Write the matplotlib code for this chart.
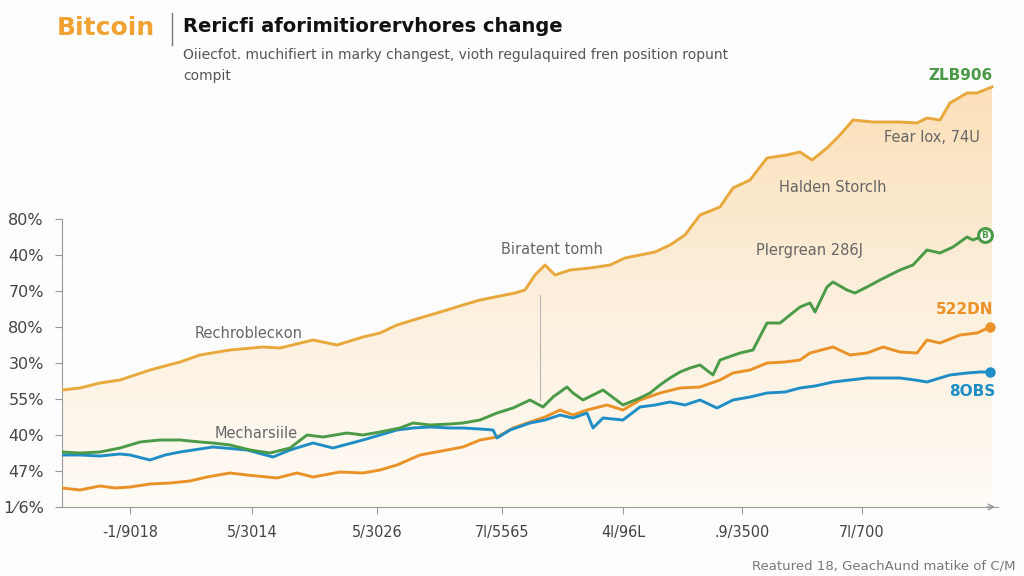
import numpy as np
import matplotlib
matplotlib.use("Agg")
from matplotlib import pyplot as plt
from matplotlib.colors import LinearSegmentedColormap

# series data (day index, level)
gold_days = [0, 18, 38, 58, 88, 118, 138, 168, 201, 218, 251, 275, 301, 318, 335, 358, 385, 401, 418, 438,
             453, 463, 473, 483, 493, 508, 528, 548, 563, 578, 593, 608, 623, 638, 658, 671, 688, 705, 725, 738,
             750, 765, 778, 791, 811, 838, 855, 865, 878, 888, 905, 915, 930]
gold_vals = [117, 119, 124, 127, 137, 145, 152, 157, 160, 159, 167, 162, 170, 174, 182, 189, 197, 202, 207, 211,
             214, 217, 232, 242, 232, 237, 239, 242, 249, 252, 255, 262, 272, 292, 300, 319, 327, 349, 352, 355,
             347, 359, 372, 387, 385, 385, 384, 389, 387, 404, 414, 414, 420]

green_days = [0, 18, 38, 58, 78, 98, 118, 138, 151, 168, 188, 208, 228, 245, 261, 285, 301, 318, 338, 351,
              368, 388, 401, 418, 435, 451, 468, 481, 491, 505, 511, 521, 541, 561, 578, 588, 598, 608, 618, 628,
              638, 651, 658, 678, 691, 705, 718, 738, 748, 753, 765, 771, 785, 793, 805, 818, 838, 851, 865, 878,
              891, 905, 911, 923]
green_vals = [55, 54, 55, 59, 65, 67, 67, 65, 64, 62, 57, 54, 59, 72, 70, 74, 72, 75, 79, 84,
              82, 83, 84, 87, 94, 99, 107, 100, 110, 120, 114, 107, 117, 102, 109, 114, 122, 129, 135, 139,
              142, 132, 147, 154, 157, 184, 184, 200, 204, 195, 220, 225, 217, 214, 220, 227, 237, 242, 257, 254,
              260, 270, 267, 272]

blue_days = [0, 18, 38, 58, 68, 88, 103, 118, 151, 185, 211, 228, 251, 271, 301, 318, 335, 351, 368, 388,
             401, 418, 431, 435, 448, 468, 483, 498, 511, 525, 531, 541, 561, 578, 593, 608, 623, 638, 655, 671,
             688, 705, 723, 738, 753, 771, 788, 805, 823, 838, 853, 865, 878, 888, 905, 918, 928]
blue_vals = [52, 52, 51, 53, 52, 47, 52, 55, 60, 57, 50, 57, 64, 59, 67, 72, 77, 79, 80, 79,
             79, 78, 77, 69, 77, 84, 87, 92, 89, 94, 79, 89, 87, 100, 102, 105, 102, 107, 99, 107,
             110, 114, 115, 119, 121, 125, 127, 129, 129, 129, 127, 125, 129, 132, 134, 135, 135]

orange_days = [0, 18, 38, 53, 68, 88, 108, 128, 145, 168, 185, 215, 235, 251, 278, 301, 318, 335, 358, 385,
               401, 418, 435, 451, 468, 483, 498, 511, 525, 545, 561, 578, 598, 618, 638, 658, 671, 688, 705, 723,
               738, 748, 771, 788, 805, 821, 838, 855, 865, 878, 898, 915, 928]
orange_vals = [19, 17, 21, 19, 20, 23, 24, 26, 30, 34, 32, 29, 34, 30, 35, 34, 37, 42, 52, 57,
               60, 67, 70, 79, 85, 90, 97, 92, 97, 102, 97, 107, 114, 119, 120, 127, 134, 137, 144, 145,
               147, 154, 160, 152, 154, 160, 155, 154, 167, 164, 172, 174, 180]

y_tick_labels = ["1\u2044\u200a6%", "47%", "40%", "55%", "30%", "80%", "70%", "40%", "80%"]
x_tick_pos = [68, 190, 315, 440, 561, 680, 800]
x_tick_labels = ["-1/9018", "5/3014", "5/3026", "7l/5565", "4l/96L", ".9/3500", "7l/700"]

GOLD = "#e9a83c"
GREEN = "#4b9a47"
ORANGE = "#ea9228"
BLUE = "#1f8ec6"
GREY = "#666666"

fig = plt.figure(figsize=(10.24, 5.76), dpi=100)
fig.patch.set_facecolor("#fdfdfd")
ax = fig.add_axes([62 / 1024, 69 / 576, 936 / 1024, 447 / 576])
ax.set_facecolor("none")
ax.set_xlim(0, 936)
ax.set_ylim(0, 447)

# gradient fill under the gold line
cmap = LinearSegmentedColormap.from_list("peach", ["#fffbf6", "#fcefdc", "#fbe0b9"])
grad = np.linspace(0, 1, 256).reshape(-1, 1)
img = ax.imshow(grad, cmap=cmap, aspect="auto", origin="lower",
                extent=[0, max(gold_days), 0, max(gold_vals)], zorder=1)
poly = ax.fill_between(gold_days, gold_vals, 0, facecolor="none", edgecolor="none")
clip = poly.get_paths()[0]
img.set_clip_path(clip, transform=ax.transData)

ax.plot([478, 478], [107, 212], color="#b9b9b9", lw=0.8, zorder=2)

ax.plot(gold_days, gold_vals, color=GOLD, lw=2.1, zorder=3)
ax.plot(orange_days, orange_vals, color=ORANGE, lw=2.1, zorder=4)
ax.plot(blue_days, blue_vals, color=BLUE, lw=2.1, zorder=5)
ax.plot(green_days, green_vals, color=GREEN, lw=2.1, zorder=6)

ax.plot(green_days[-1], green_vals[-1], "o", ms=10, mfc="white", mec=GREEN, mew=2.2, zorder=7)
ax.text(green_days[-1], green_vals[-1], "B", color=GREEN, fontsize=6.5, fontweight="bold",
        ha="center", va="center", zorder=8)
ax.plot(orange_days[-1], orange_vals[-1], "o", ms=6.5, color=ORANGE, zorder=7)
ax.plot(blue_days[-1], blue_vals[-1], "o", ms=6.5, color=BLUE, zorder=7)

# annotations
ax.text(133, 174, "Rechroblecкon", color=GREY, fontsize=10.5, va="center", zorder=9)
ax.text(153, 74, "Mecharsiile", color=GREY, fontsize=10.5, va="center", zorder=9)
ax.text(490, 257, "Biratent tomh", color=GREY, fontsize=10.5, ha="center", va="center", zorder=9)
ax.text(748, 257, "Plergrean 286J", color=GREY, fontsize=10.5, ha="center", va="center", zorder=9)
ax.text(771, 319, "Halden Storclh", color=GREY, fontsize=10.5, ha="center", va="center", zorder=9)
ax.text(870, 370, "Fear lox, 74U", color=GREY, fontsize=10.5, ha="center", va="center", zorder=9)
ax.text(931, 432, "ZLB906", color=GREEN, fontsize=11, fontweight="bold", ha="right", va="center")
ax.text(931, 197, "522DN", color=ORANGE, fontsize=11, fontweight="bold", ha="right", va="center")
ax.text(933, 115, "8OBS", color=BLUE, fontsize=11, fontweight="bold", ha="right", va="center")

# axes styling
for s in ["top", "right"]:
    ax.spines[s].set_visible(False)
ax.spines["left"].set_bounds(0, 288)
ax.spines["left"].set_color("#9a9a9a")
ax.spines["bottom"].set_color("#9a9a9a")
ax.annotate("", xy=(1.0, 0), xytext=(0.985, 0), xycoords="axes fraction",
            arrowprops=dict(arrowstyle="->", color="#9a9a9a", lw=1))

ax.set_yticks(np.arange(9) * 36)
ax.set_yticklabels(y_tick_labels)
ax.set_xticks(x_tick_pos)
ax.set_xticklabels(x_tick_labels, fontstretch="condensed")
ax.tick_params(axis="y", colors="#9a9a9a", labelcolor="#444444", labelsize=11.5, length=5, pad=8)
ax.tick_params(axis="x", colors="#9a9a9a", labelcolor="#444444", labelsize=11.5, length=5, pad=8)

# header
fig.text(57 / 1024, 1 - 28 / 576, "Bitcoin", color="#f0a232", fontsize=18, fontweight="bold", va="center")
fig.add_artist(plt.Line2D([172 / 1024, 172 / 1024], [1 - 45 / 576, 1 - 13 / 576], color="#777777", lw=1))
fig.text(183 / 1024, 1 - 27 / 576, "Rericfi aforimitiorervhores change", color="#111111",
         fontsize=14, fontweight="bold", va="center")
fig.text(183 / 1024, 1 - 55 / 576, "Oiiecfot. muchifiert in marky changest, vioth regulaquired fren position ropunt",
         color="#555555", fontsize=10, va="center")
fig.text(183 / 1024, 1 - 76 / 576, "compit", color="#555555", fontsize=10, va="center")
fig.text(1015 / 1024, 1 - 566 / 576, "Reatured 18, GeachAund matike of C/M", color="#777777",
         fontsize=9.5, ha="right", va="center")

fig.savefig("out.png", dpi=100, facecolor=fig.get_facecolor())
